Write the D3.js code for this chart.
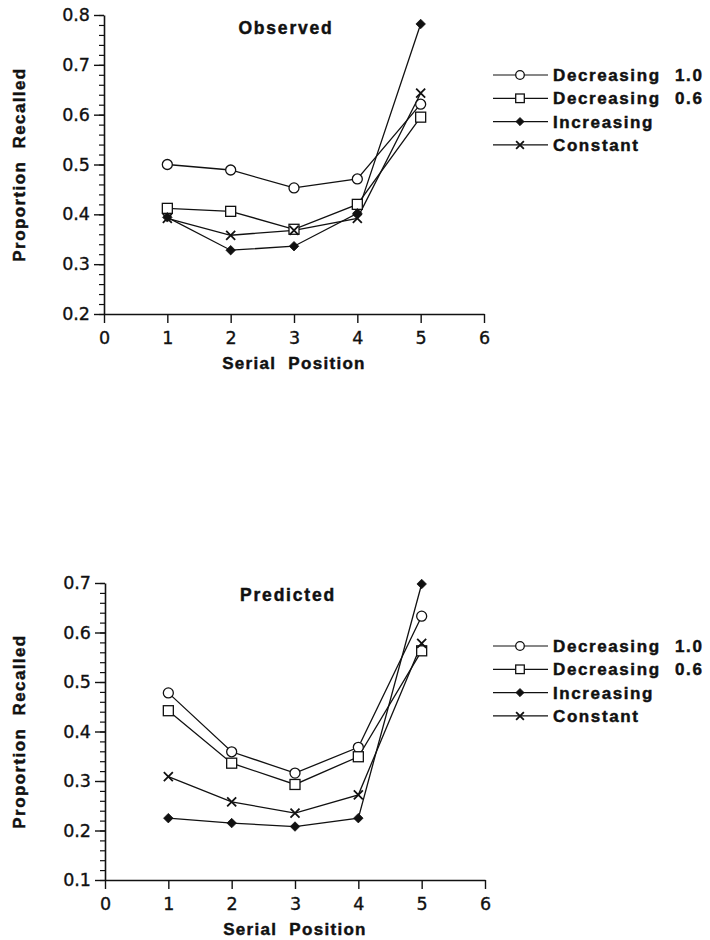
<!DOCTYPE html>
<html>
<head>
<meta charset="utf-8">
<script src="https://cdn.jsdelivr.net/npm/d3@7/dist/d3.min.js"></script>
<style>
  html, body { margin: 0; padding: 0; background: #fff; }
  svg { display: block; }
  .tick-label { font-family: "DejaVu Sans", sans-serif; font-size: 17.5px; fill: #111; stroke: #111; stroke-width: 0.35px; }
  .bold { font-family: "Liberation Sans", Arial, sans-serif; font-weight: bold; fill: #111; stroke: #111; stroke-width: 0.45px; }
</style>
</head>
<body>
<svg id="chart" width="710" height="940"></svg>
<script>
// Serial positions and series (proportion recalled)
const positions = [1, 2, 3, 4, 5];
const seriesNames = ["Decreasing", "Decreasing", "Increasing", "Constant"];
const seriesSuffix = ["1.0", "0.6", "", ""];
const seriesMarkers = ["circle", "square", "diamond", "cross"];

const observedDec10 = [0.500, 0.489, 0.453, 0.471, 0.621];
const observedDec06 = [0.412, 0.406, 0.370, 0.420, 0.595];
const observedInc   = [0.394, 0.328, 0.336, 0.402, 0.782];
const observedConst = [0.392, 0.358, 0.368, 0.392, 0.643];

const predictedDec10 = [0.478, 0.359, 0.316, 0.368, 0.633];
const predictedDec06 = [0.442, 0.336, 0.293, 0.349, 0.563];
const predictedInc   = [0.225, 0.215, 0.208, 0.225, 0.698];
const predictedConst = [0.309, 0.258, 0.235, 0.272, 0.578];

const xTicks = [0, 1, 2, 3, 4, 5, 6];
const observedYTicks = [0.2, 0.3, 0.4, 0.5, 0.6, 0.7, 0.8];
const predictedYTicks = [0.1, 0.2, 0.3, 0.4, 0.5, 0.6, 0.7];

const panels = [
  { title: "Observed", series: [observedDec10, observedDec06, observedInc, observedConst],
    yTicks: observedYTicks, top: 15, bottom: 314, left: 104,
    titleX: 286, titleY: 34, legendY: 75 },
  { title: "Predicted", series: [predictedDec10, predictedDec06, predictedInc, predictedConst],
    yTicks: predictedYTicks, top: 583, bottom: 880, left: 105,
    titleX: 288, titleY: 601, legendY: 646 }
];

const svg = d3.select("#chart");
const ink = "#111";

function drawMarker(g, type, cx, cy, s) {
  if (type === "circle") {
    g.append("circle").attr("cx", cx).attr("cy", cy).attr("r", s)
      .attr("fill", "#fff").attr("stroke", ink).attr("stroke-width", 1.3);
  } else if (type === "square") {
    g.append("rect").attr("x", cx - s).attr("y", cy - s).attr("width", 2 * s).attr("height", 2 * s)
      .attr("fill", "#fff").attr("stroke", ink).attr("stroke-width", 1.3);
  } else if (type === "diamond") {
    const d = s * 0.95;
    g.append("path").attr("d", `M${cx},${cy - d}L${cx + d},${cy}L${cx},${cy + d}L${cx - d},${cy}Z`)
      .attr("fill", ink).attr("stroke", ink).attr("stroke-width", 0.8);
  } else {
    const d = s * 0.9;
    g.append("path").attr("d", `M${cx - d},${cy - d}L${cx + d},${cy + d}M${cx - d},${cy + d}L${cx + d},${cy - d}`)
      .attr("stroke", ink).attr("stroke-width", 1.8).attr("fill", "none");
  }
}

panels.forEach(p => {
  const x = d3.scaleLinear().domain([0, 6]).range([p.left, p.left + 380]);
  const y = d3.scaleLinear().domain([p.yTicks[0], p.yTicks[p.yTicks.length - 1]]).range([p.bottom, p.top]);
  const g = svg.append("g");

  // minor y ticks every 0.02
  const minor = d3.range(p.yTicks[0], p.yTicks[p.yTicks.length - 1] + 1e-9, 0.02)
    .map(v => +v.toFixed(2));
  const yMinor = g.append("g").attr("transform", `translate(${p.left},0)`)
    .call(d3.axisLeft(y).tickValues(minor).tickSize(5).tickSizeOuter(0).tickFormat(""));
  yMinor.select(".domain").remove();
  yMinor.selectAll("line").attr("stroke", ink).attr("stroke-width", 1.2);

  const yAxis = g.append("g").attr("transform", `translate(${p.left},0)`)
    .call(d3.axisLeft(y).tickValues(p.yTicks).tickSize(10).tickSizeOuter(0).tickPadding(4)
      .tickFormat(d3.format(".1f")));
  yAxis.select(".domain").attr("stroke", ink).attr("stroke-width", 1.6);
  yAxis.selectAll("line").attr("stroke", ink).attr("stroke-width", 1.4);
  yAxis.selectAll("text").attr("class", "tick-label").attr("font-size", null).attr("font-family", null);

  const xAxis = g.append("g").attr("transform", `translate(0,${p.bottom})`)
    .call(d3.axisBottom(x).tickValues(xTicks).tickSize(9).tickSizeOuter(0).tickPadding(9)
      .tickFormat(d3.format("d")));
  xAxis.select(".domain").attr("stroke", ink).attr("stroke-width", 1.6);
  xAxis.selectAll("line").attr("stroke", ink).attr("stroke-width", 1.4);
  xAxis.selectAll("text").attr("class", "tick-label").attr("font-size", null).attr("font-family", null);

  // axis titles
  g.append("text").attr("class", "bold")
    .attr("x", x(3)).attr("y", p.bottom + 55).attr("text-anchor", "middle")
    .attr("font-size", 17).attr("letter-spacing", 1.3)
    .attr("xml:space", "preserve").text("Serial  Position");
  g.append("text").attr("class", "bold")
    .attr("transform", `translate(25,${(p.top + p.bottom) / 2}) rotate(-90)`)
    .attr("text-anchor", "middle").attr("font-size", 17).attr("letter-spacing", 1.4)
    .attr("xml:space", "preserve").text("Proportion  Recalled");

  // panel title
  g.append("text").attr("class", "bold")
    .attr("x", p.titleX).attr("y", p.titleY).attr("text-anchor", "middle")
    .attr("font-size", 17.5).attr("letter-spacing", 1.8).text(p.title);

  // series lines
  const line = d3.line().x((d, i) => x(positions[i])).y(d => y(d));
  p.series.forEach(vals => {
    g.append("path").datum(vals).attr("d", line)
      .attr("fill", "none").attr("stroke", ink).attr("stroke-width", 1.3);
  });
  // series markers
  p.series.forEach((vals, si) => {
    vals.forEach((v, i) => drawMarker(g, seriesMarkers[si], x(positions[i]), y(v), 5));
  });

  // legend
  seriesNames.forEach((name, si) => {
    const ly = p.legendY + si * 23.3;
    g.append("line").attr("x1", 493).attr("x2", 548).attr("y1", ly).attr("y2", ly)
      .attr("stroke", ink).attr("stroke-width", 1.2);
    drawMarker(g, seriesMarkers[si], 520, ly, 4.3);
    g.append("text").attr("class", "bold").attr("x", 553).attr("y", ly + 6)
      .attr("font-size", 17).attr("letter-spacing", 1.6).text(name);
    if (seriesSuffix[si]) {
      g.append("text").attr("class", "bold").attr("x", 675).attr("y", ly + 6)
        .attr("font-size", 17).attr("letter-spacing", 1.6).text(seriesSuffix[si]);
    }
  });
});
</script>
</body>
</html>
